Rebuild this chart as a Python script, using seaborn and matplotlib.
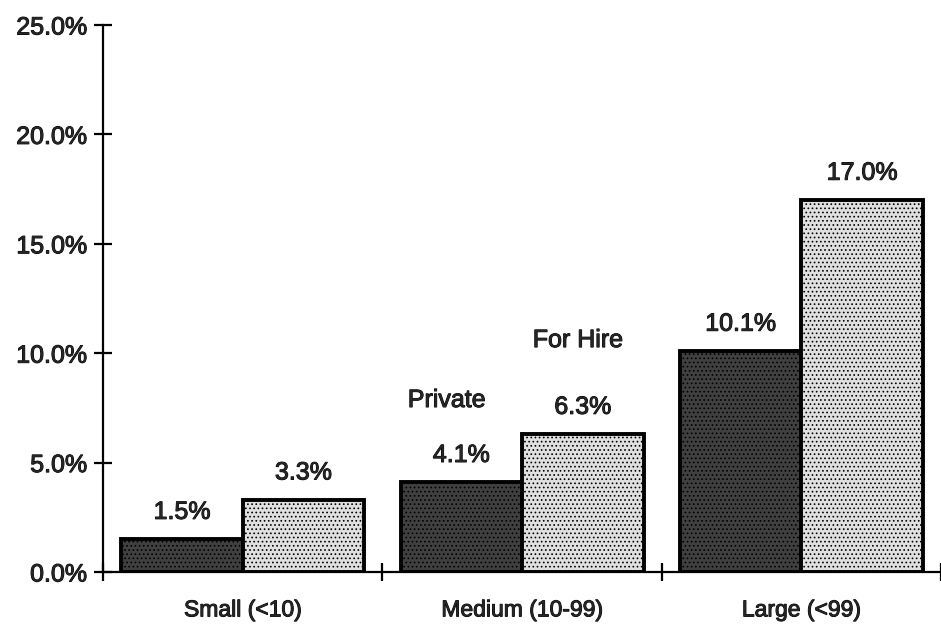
import pandas as pd
import seaborn as sns
import matplotlib.pyplot as plt
import matplotlib.patheffects as pe
from matplotlib.ticker import StrMethodFormatter, FixedLocator

# Dades llegides del gràfic
sizes = ['Small (<10)', 'Medium (10-99)', 'Large (<99)']
private = [1.5, 4.1, 10.1]
for_hire = [3.3, 6.3, 17.0]

df = pd.DataFrame({
    'size': sizes * 2,
    'tipus': ['Private'] * 3 + ['For Hire'] * 3,
    'pct': private + for_hire,
})

sns.set_theme(style='white')
plt.rcParams['font.family'] = ['Liberation Sans', 'DejaVu Sans']
plt.rcParams['hatch.linewidth'] = 0.7

# traç fi per engruixir el text (com l'original escanejat)
gruix = [pe.withStroke(linewidth=0.7, foreground='black')]

fig = plt.figure(figsize=(9.41, 6.28), dpi=100)
ax = fig.add_axes([0.1095, 0.0892, 0.8905, 0.871])

sns.barplot(data=df, x='size', y='pct', hue='tipus', order=sizes,
            hue_order=['Private', 'For Hire'],
            palette={'Private': '#404040', 'For Hire': '#e0e0e0'},
            width=0.87, gap=0, edgecolor='black', linewidth=2.8,
            legend=False, ax=ax)

for cont in ax.containers:
    for p in cont:
        p.set_hatch('....')
    txts = ax.bar_label(cont, fmt='%.1f%%', padding=11, fontsize=18)
    for t in txts:
        t.set_path_effects(gruix)

# Etiquetes de sèrie sobre el grup mitjà
ax.text(0.73, 7.86, 'Private', ha='center', va='center', fontsize=18,
        path_effects=gruix)
ax.text(1.2, 10.6, 'For Hire', ha='center', va='center', fontsize=18,
        path_effects=gruix)

ax.set_xlim(-0.5, 2.5)
ax.set_ylim(0, 25)
ax.set_yticks([0, 5, 10, 15, 20, 25])
ax.yaxis.set_major_formatter(StrMethodFormatter('{x:.1f}%'))
ax.xaxis.set_minor_locator(FixedLocator([-0.5, 0.5, 1.5, 2.5]))

ax.set_xlabel('')
ax.set_ylabel('')
for s in ['top', 'right']:
    ax.spines[s].set_visible(False)
for s in ['left', 'bottom']:
    ax.spines[s].set_color('black')
    ax.spines[s].set_linewidth(1.6)

ax.tick_params(axis='y', which='major', direction='inout', length=13, width=1.6,
               color='black', left=True, labelsize=18, pad=5)
ax.tick_params(axis='x', which='major', length=0, labelsize=16.5, pad=19)
ax.tick_params(axis='x', which='minor', direction='inout', length=13, width=1.6,
               color='black', bottom=True)
for lab in ax.get_xticklabels() + ax.get_yticklabels():
    lab.set_path_effects(gruix)

plt.savefig('out.png', dpi=100)
